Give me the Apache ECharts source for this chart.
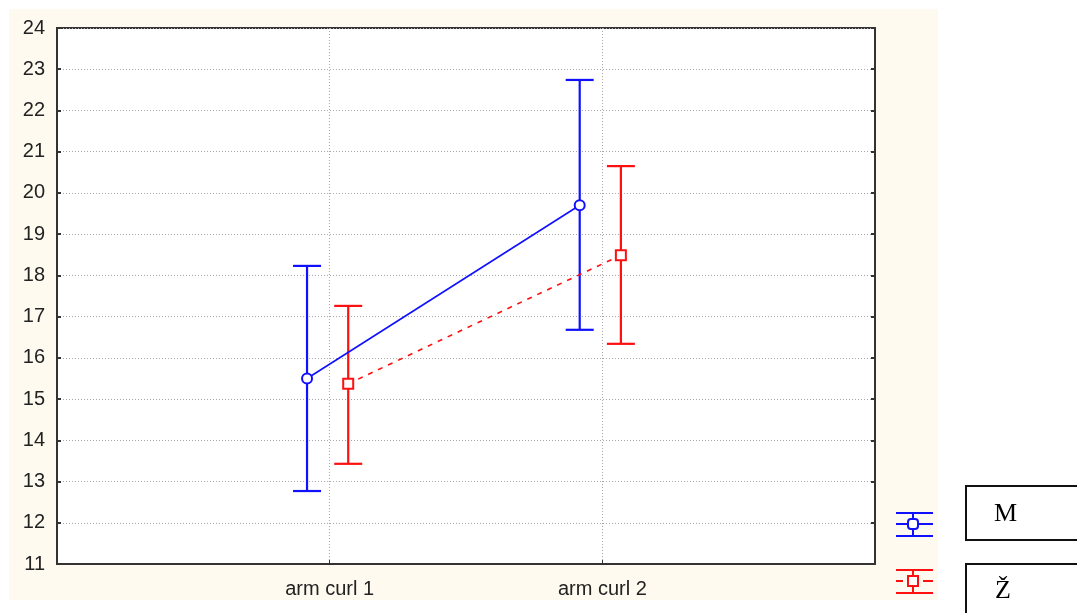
<!DOCTYPE html>
<html>
<head>
<meta charset="utf-8">
<script src="https://cdn.jsdelivr.net/npm/echarts@6/dist/echarts.min.js"></script>
<style>
  html, body { margin: 0; padding: 0; background: #ffffff; }
  #chart { width: 1077px; height: 613px; }
</style>
</head>
<body>
<div id="chart"></div>
<script>
// Categories on the x axis
const categories = ['arm curl 1', 'arm curl 2'];
// Group M: means and error-bar limits
const mMean = [15.5, 19.7];
const mLow  = [12.77, 16.68];
const mHigh = [18.23, 22.74];
// Group Ž: means and error-bar limits
const zMean = [15.37, 18.49];
const zLow  = [13.43, 16.34];
const zHigh = [17.26, 20.65];
// Y axis range
const yMin = 11, yMax = 24;

const blue = '#1010ff';
const red = '#ff1010';
const mShift = -0.083;
const zShift = 0.068;

function pts(mean, shift) {
  return mean.map((v, i) => [i + 1 + shift, v]);
}
function bars(low, high, shift) {
  return low.map((v, i) => [i + 1 + shift, v, high[i]]);
}

function errorBar(color) {
  return function (params, api) {
    const x = api.value(0);
    const lo = api.coord([x, api.value(1)]);
    const hi = api.coord([x, api.value(2)]);
    const hw = 14;
    const style = { stroke: color, lineWidth: 2.2, fill: null };
    return {
      type: 'group',
      children: [
        { type: 'line', shape: { x1: lo[0], y1: lo[1], x2: hi[0], y2: hi[1] }, style },
        { type: 'line', shape: { x1: hi[0] - hw, y1: hi[1], x2: hi[0] + hw, y2: hi[1] }, style },
        { type: 'line', shape: { x1: lo[0] - hw, y1: lo[1], x2: lo[0] + hw, y2: lo[1] }, style }
      ]
    };
  };
}

const chart = echarts.init(document.getElementById('chart'));

const labelFont = { fontFamily: 'Liberation Sans, Arial, sans-serif', fontSize: 20, color: '#222' };

chart.setOption({
  animation: false,
  backgroundColor: '#ffffff',
  grid: {
    left: 57, top: 28, right: 202, bottom: 49,
    show: true, backgroundColor: '#ffffff', borderColor: '#333', borderWidth: 2
  },
  graphic: [
    { type: 'rect', z: -100, silent: true,
      shape: { x: 9, y: 9, width: 929, height: 591 }, style: { fill: '#fffaef' } },
    // legend: M
    { type: 'group', z: 10, children: [
      { type: 'line', shape: { x1: 896, y1: 513, x2: 933, y2: 513 }, style: { stroke: blue, lineWidth: 2 } },
      { type: 'line', shape: { x1: 896, y1: 524, x2: 933, y2: 524 }, style: { stroke: blue, lineWidth: 2 } },
      { type: 'line', shape: { x1: 896, y1: 536, x2: 933, y2: 536 }, style: { stroke: blue, lineWidth: 2 } },
      { type: 'line', shape: { x1: 913, y1: 513, x2: 913, y2: 536 }, style: { stroke: blue, lineWidth: 2 } },
      { type: 'rect', shape: { x: 908, y: 519, width: 10, height: 10, r: 3 }, style: { fill: '#fff', stroke: blue, lineWidth: 2 } }
    ] },
    // legend: Ž
    { type: 'group', z: 10, children: [
      { type: 'line', shape: { x1: 896, y1: 570, x2: 933, y2: 570 }, style: { stroke: red, lineWidth: 2 } },
      { type: 'line', shape: { x1: 896, y1: 581, x2: 903, y2: 581 }, style: { stroke: red, lineWidth: 2 } },
      { type: 'line', shape: { x1: 923, y1: 581, x2: 933, y2: 581 }, style: { stroke: red, lineWidth: 2 } },
      { type: 'line', shape: { x1: 896, y1: 593, x2: 933, y2: 593 }, style: { stroke: red, lineWidth: 2 } },
      { type: 'line', shape: { x1: 913, y1: 570, x2: 913, y2: 593 }, style: { stroke: red, lineWidth: 2 } },
      { type: 'rect', shape: { x: 908, y: 576, width: 10, height: 10 }, style: { fill: '#fff', stroke: red, lineWidth: 2 } }
    ] },
    // legend text boxes
    { type: 'rect', z: 10, shape: { x: 966, y: 486, width: 130, height: 54 },
      style: { fill: '#fff', stroke: '#111', lineWidth: 2 } },
    { type: 'text', z: 11, style: { text: 'M', x: 994, y: 527, textVerticalAlign: 'bottom',
      font: '26px "Liberation Serif", "DejaVu Serif", serif', fill: '#000' } },
    { type: 'rect', z: 10, shape: { x: 966, y: 564, width: 130, height: 70 },
      style: { fill: '#fff', stroke: '#111', lineWidth: 2 } },
    { type: 'text', z: 11, style: { text: 'Ž', x: 995, y: 604, textVerticalAlign: 'bottom',
      font: '26px "Liberation Serif", "DejaVu Serif", serif', fill: '#000' } }
  ],
  xAxis: {
    type: 'value', min: 0, max: categories.length + 1, interval: 1,
    axisLine: { show: true, lineStyle: { color: '#333', width: 2 } },
    axisTick: { show: true, inside: true, length: 4, lineStyle: { color: '#333' } },
    splitLine: { show: true, lineStyle: { color: '#a8a8a8', type: [1, 2], width: 1 } },
    axisLabel: Object.assign({
      margin: 15,
      formatter: v => (v >= 1 && v <= categories.length) ? categories[v - 1] : ''
    }, labelFont)
  },
  yAxis: [
    {
      type: 'value', min: yMin, max: yMax, interval: 1,
      axisLine: { show: true, lineStyle: { color: '#333', width: 2 } },
      axisTick: { show: true, inside: true, length: 4, lineStyle: { color: '#333', width: 2 } },
      splitLine: { show: true, lineStyle: { color: '#a8a8a8', type: [1, 2], width: 1 } },
      axisLabel: Object.assign({ margin: 12 }, labelFont)
    },
    {
      type: 'value', min: yMin, max: yMax, interval: 1, position: 'right',
      axisLine: { show: true, lineStyle: { color: '#333', width: 2 } },
      axisTick: { show: true, inside: true, length: 4, lineStyle: { color: '#333', width: 2 } },
      splitLine: { show: false },
      axisLabel: { show: false }
    }
  ],
  series: [
    {
      name: 'M bars', type: 'custom', renderItem: errorBar(blue),
      data: bars(mLow, mHigh, mShift), encode: { x: 0, y: [1, 2] }, z: 3
    },
    {
      name: 'Ž bars', type: 'custom', renderItem: errorBar(red),
      data: bars(zLow, zHigh, zShift), encode: { x: 0, y: [1, 2] }, z: 3
    },
    {
      name: 'M', type: 'line', data: pts(mMean, mShift),
      symbol: 'circle', symbolSize: 10,
      itemStyle: { color: '#ffffff', borderColor: blue, borderWidth: 2 },
      lineStyle: { color: blue, width: 1.6 }, z: 4
    },
    {
      name: 'Ž', type: 'line', data: pts(zMean, zShift),
      symbol: 'rect', symbolSize: 10,
      itemStyle: { color: '#ffffff', borderColor: red, borderWidth: 2 },
      lineStyle: { color: red, width: 1.6, type: [5, 6] }, z: 4
    }
  ]
});
</script>
</body>
</html>
